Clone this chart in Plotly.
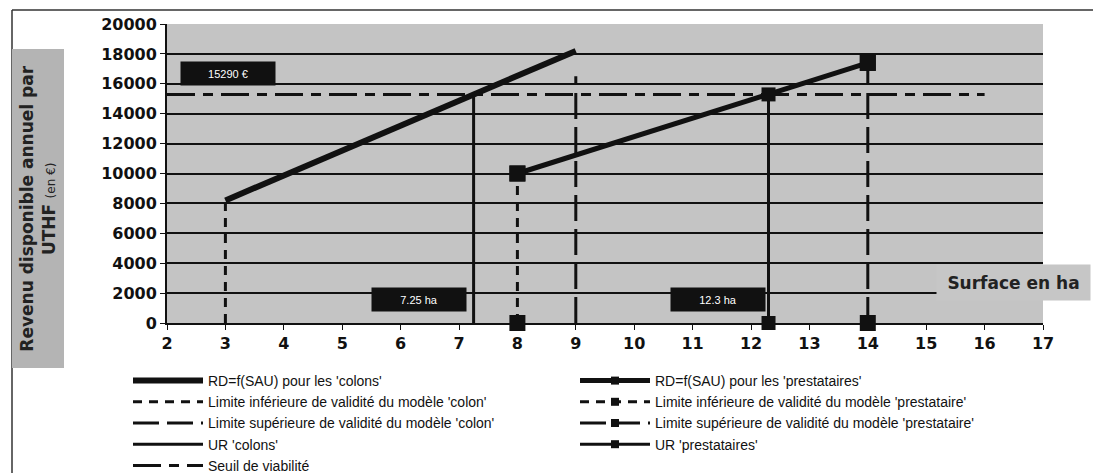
import plotly.graph_objects as go

# ---- data ----
colons_x = [3, 9]
colons_y = [8200, 18200]
prest_x = [8, 14]
prest_y = [10000, 17400]
seuil_value = 15290
seuil_x = [2, 16]
lim_inf_colon_x = 3
lim_inf_colon_top = 8200
lim_sup_colon_x = 9
lim_sup_colon_top = 16500
lim_inf_prest_x = 8
lim_inf_prest_top = 10000
lim_sup_prest_x = 14
lim_sup_prest_top = 17400
ur_colons_x = 7.25
ur_prest_x = 12.3
y_ticks = [0, 2000, 4000, 6000, 8000, 10000, 12000, 14000, 16000, 18000, 20000]
x_ticks = list(range(2, 18))
grid_vals = [2000, 4000, 6000, 8000, 10000, 12000, 14000, 16000, 18000]
label_seuil = "15290 €"
label_ur_colons = "7.25 ha"
label_ur_prest = "12.3 ha"

BLACK = "#111111"
L, R, T, B = 167, 57, 24, 150
W, H = 1100, 473
PW, PH = W - L - R, H - T - B


def px(xp):
    return (xp - L) / PW


def py(yp):
    return (H - B - yp) / PH


fig = go.Figure()


def add_series(x, y, name, width, dash="solid", markers=False, big_size=16):
    mode = "lines+markers" if markers else "lines"
    fig.add_trace(go.Scatter(x=x, y=y, mode=mode, name=name, cliponaxis=False,
                             line=dict(color=BLACK, width=width, dash=dash),
                             marker=dict(symbol="square", size=8, color=BLACK)))
    if markers:
        fig.add_trace(go.Scatter(x=x, y=y, mode="markers", showlegend=False, cliponaxis=False,
                                 marker=dict(symbol="square", size=big_size, color=BLACK,
                                             line=dict(width=0)),
                                 hoverinfo="skip"))


add_series(colons_x, colons_y, "RD=f(SAU) pour les 'colons'", 6)
add_series(prest_x, prest_y, "RD=f(SAU) pour les 'prestataires'", 5, markers=True)
add_series([lim_inf_colon_x] * 2, [0, lim_inf_colon_top],
           "Limite inférieure de validité du modèle 'colon'", 3, dash="9px,7px")
add_series([lim_inf_prest_x] * 2, [0, lim_inf_prest_top],
           "Limite inférieure de validité du modèle 'prestataire'", 3, dash="9px,7px", markers=True)
add_series([lim_sup_colon_x] * 2, [0, lim_sup_colon_top],
           "Limite supérieure de validité du modèle 'colon'", 3, dash="26px,8px")
add_series([lim_sup_prest_x] * 2, [0, lim_sup_prest_top],
           "Limite supérieure de validité du modèle 'prestataire'", 3, dash="26px,8px", markers=True)
add_series([ur_colons_x] * 2, [0, seuil_value], "UR 'colons'", 3)
add_series([ur_prest_x] * 2, [0, seuil_value], "UR 'prestataires'", 3, markers=True, big_size=14)
add_series(seuil_x, [seuil_value] * 2, "Seuil de viabilité", 3, dash="28px,8px,10px,8px")

# label boxes
for xv, yv, txt in [(3.04, 16700, label_seuil), (6.31, 1570, label_ur_colons), (11.44, 1570, label_ur_prest)]:
    fig.add_annotation(x=xv, y=yv, xref="x", yref="y", text=txt, showarrow=False,
                       xanchor="center", yanchor="middle",
                       bgcolor=BLACK, width=90, height=19, borderpad=2,
                       font=dict(family="Liberation Sans", size=11, color="white"))

# axis title boxes
fig.add_annotation(x=px(1013.5), y=py(282.5), xref="paper", yref="paper",
                   xanchor="center", yanchor="middle",
                   text="<b>Surface en ha</b>", showarrow=False,
                   bgcolor="#c6c6c6", width=149, height=31, borderpad=2,
                   font=dict(family="DejaVu Sans", size=17, color="#222222"))
fig.add_annotation(x=px(37.5), y=py(209), xref="paper", yref="paper",
                   xanchor="center", yanchor="middle",
                   text="<b>Revenu disponible annuel par</b><br><b>UTHF</b> <span style='font-size:12px'>(en €)</span>",
                   showarrow=False, textangle=-90, bgcolor="#b4b4b4",
                   width=314, height=47, borderpad=2,
                   font=dict(family="DejaVu Sans", size=17, color="#222222"))

# frame lines
fig.add_shape(type="line", xref="paper", yref="paper", x0=px(12), x1=px(1093), y0=py(10), y1=py(10),
              line=dict(color="#333333", width=1.5))
fig.add_shape(type="line", xref="paper", yref="paper", x0=px(12), x1=px(12), y0=py(10), y1=py(475),
              line=dict(color="#333333", width=1.5))

tick_font = dict(family="DejaVu Sans", size=16, color="#111111", weight="bold")

fig.update_layout(
    width=W, height=H,
    margin=dict(l=L, r=R, t=T, b=B, autoexpand=False),
    paper_bgcolor="white",
    plot_bgcolor="#c4c4c4",
    showlegend=True,
    legend=dict(orientation="h", x=px(128), y=py(365), xanchor="left", yanchor="top",
                entrywidth=362, entrywidthmode="pixels", itemwidth=70,
                font=dict(family="Liberation Sans", size=14, color="#111111"),
                bgcolor="rgba(0,0,0,0)"),
    xaxis=dict(range=[2, 17], tickvals=x_ticks, showgrid=False, zeroline=False,
               showline=True, linecolor=BLACK, linewidth=2,
               ticks="outside", ticklen=5, tickcolor=BLACK, tickfont=tick_font),
    yaxis=dict(range=[0, 20000], tickvals=y_ticks, tickformat="d", showgrid=False, zeroline=False,
               showline=True, linecolor=BLACK, linewidth=2,
               ticks="outside", ticklen=5, tickcolor=BLACK, tickfont=tick_font,
               minor=dict(tickvals=grid_vals, showgrid=True, gridcolor=BLACK, gridwidth=1.5)),
)

fig.write_html("out.html")
